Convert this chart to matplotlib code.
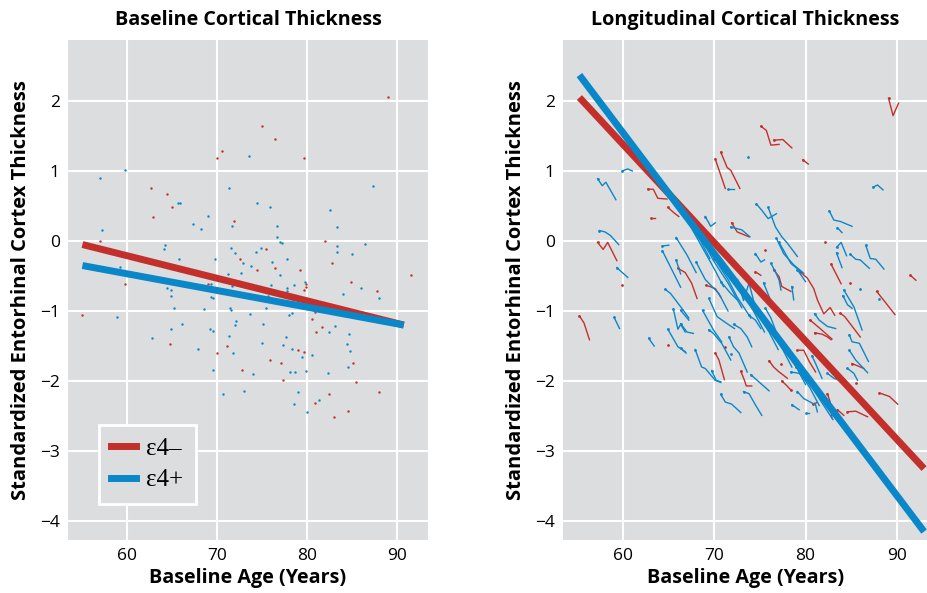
import matplotlib
matplotlib.use("Agg")
import matplotlib.pyplot as plt
from matplotlib.lines import Line2D

plt.rcParams['font.family'] = ['Open Sans', 'DejaVu Sans']

RED = '#c3302b'
BLUE = '#0a87c9'
BG = '#dcdddf'

# --- left panel: baseline thickness (age, thickness)
neg_age = [89.0, 74.9, 76.4, 70.5, 70.0, 79.6, 62.6, 64.4, 64.9, 62.8, 71.8, 57.0, 75.4, 72.5,
           81.9, 82.7, 91.5, 76.4, 74.4, 79.2, 84.8, 79.8, 69.0, 59.7, 79.8, 79.6, 87.7, 55.0,
           80.8, 82.1, 83.6, 80.5, 80.9, 81.6, 64.7, 71.1, 69.9, 79.0, 79.6, 75.8, 77.1, 85.1,
           72.7, 77.3, 85.4, 82.4, 88.0, 80.8, 84.5, 82.9]
neg_thick = [2.05, 1.65, 1.46, 1.28, 1.18, 1.18, 0.76, 0.67, 0.48, 0.35, 0.28, 0.0, -0.11, -0.26,
             0.0, -0.31, -0.48, -0.39, -0.42, -0.42, -0.59, -0.62, -0.61, -0.61, -0.65, -0.70, -0.71, -1.06,
             -1.02, -0.99, -1.02, -1.12, -1.30, -1.23, -1.47, -1.50, -1.60, -1.55, -1.58, -1.70, -1.74, -1.74,
             -1.84, -1.99, -2.02, -2.19, -2.15, -2.32, -2.43, -2.51]
pos_age = [73.5, 59.7, 57.0, 71.3, 87.3, 65.6, 65.8, 74.4, 75.8, 82.5, 68.9, 71.6, 76.6, 83.3,
           67.3, 68.2, 57.2, 76.6, 76.9, 77.2, 83.3, 86.4, 64.2, 64.1, 71.5, 74.8, 72.0, 74.3,
           83.3, 84.9, 65.7, 69.7, 72.8, 76.1, 77.7, 59.2, 73.7, 72.6, 71.2, 77.0, 70.6, 79.7,
           85.9, 78.5, 77.7, 76.0, 69.3, 64.4, 64.8, 64.8, 69.3, 69.5, 71.6, 73.5, 75.6, 77.7,
           88.0, 84.0, 58.8, 65.2, 68.5, 71.4, 71.5, 73.6, 75.4, 77.9, 78.3, 66.1, 64.8, 69.2,
           69.5, 72.1, 71.9, 75.1, 82.4, 83.1, 84.6, 62.7, 67.8, 71.3, 71.7, 74.9, 77.6, 77.3,
           78.3, 79.4, 80.5, 84.4, 84.7, 84.5, 69.5, 73.9, 78.1, 78.6, 79.8, 82.3, 70.6, 73.0,
           79.0, 78.5, 81.3, 79.9]
pos_thick = [1.21, 1.02, 0.90, 0.76, 0.79, 0.54, 0.55, 0.54, 0.49, 0.44, 0.36, 0.22, 0.21, 0.20,
             0.24, 0.17, 0.16, 0.06, -0.02, -0.03, -0.07, -0.04, -0.05, -0.12, -0.10, -0.10, -0.17, -0.15,
             -0.15, -0.18, -0.25, -0.25, -0.31, -0.30, -0.25, -0.37, -0.36, -0.45, -0.47, -0.48, -0.56, -0.58,
             -0.67, -0.63, -0.67, -0.63, -0.61, -0.67, -0.70, -0.79, -0.80, -0.82, -0.64, -0.65, -0.79, -0.72,
             -0.81, -0.76, -1.09, -0.95, -0.97, -0.96, -0.99, -1.04, -0.95, -1.06, -1.03, -1.18, -1.25, -1.25,
             -1.28, -1.14, -1.20, -1.18, -1.30, -1.22, -1.33, -1.38, -1.54, -1.36, -1.60, -1.46, -1.37, -1.49,
             -1.54, -1.65, -1.63, -1.47, -1.57, -1.80, -1.84, -1.90, -1.87, -1.87, -1.86, -1.89, -2.18, -2.14,
             -2.15, -2.33, -2.27, -2.44]

# fitted lines (x ends, y ends)
base_fit_x = [55.0, 90.7]
base_fit_neg = [-0.05, -1.20]
base_fit_pos = [-0.35, -1.20]
long_fit_x = [55.2, 93.0]
long_fit_neg = [2.05, -3.25]
long_fit_pos = [2.37, -4.15]

# --- right panel: individual trajectories, each [(age, thickness), ...]
traj_neg = [
    [(55.2, -1.07), (55.7, -1.17), (56.3, -1.41)],
    [(57.2, -0.02), (57.8, -0.12), (58.3, -0.02), (59.3, -0.28)],
    [(59.9, -0.63)],
    [(62.7, 0.74), (63.3, 0.74), (63.8, 0.61), (64.8, 0.60)],
    [(63.0, 0.33), (63.5, 0.33)],
    [(64.9, 0.48), (65.6, 0.40), (66.1, 0.35)],
    [(70.1, 1.17), (71.2, 0.75)],
    [(70.7, 1.27), (71.4, 1.05), (71.8, 1.01), (72.8, 0.75)],
    [(75.1, 1.64), (75.7, 1.58), (76.2, 1.37), (77.1, 1.38)],
    [(76.5, 1.44), (77.5, 1.45), (78.5, 1.33)],
    [(79.7, 1.16), (80.3, 1.10)],
    [(89.1, 2.04), (89.6, 1.79), (90.2, 1.97)],
    [(66.0, -0.39), (66.8, -0.45), (67.5, -0.60), (68.1, -0.82)],
    [(71.9, 0.26), (72.5, 0.13), (73.8, 0.06)],
    [(75.5, -0.13)],
    [(76.5, -0.41), (77.1, -0.51), (77.4, -0.65), (78.4, -0.72)],
    [(74.5, -0.44), (75.1, -0.49)],
    [(69.1, -0.63), (70.1, -0.68), (70.7, -0.80)],
    [(82.1, -0.01)],
    [(82.8, -0.33), (83.9, -0.61)],
    [(84.9, -0.60)],
    [(91.5, -0.49), (92.1, -0.56)],
    [(87.8, -0.72), (88.6, -0.85), (89.8, -1.05)],
    [(64.9, -1.48)],
    [(70.1, -1.60), (70.5, -1.70), (71.1, -1.98)],
    [(72.9, -1.86), (73.3, -1.99), (73.5, -2.07), (74.1, -2.07)],
    [(71.2, -1.51)],
    [(76.0, -1.71), (76.5, -1.80), (77.1, -1.87), (78.0, -1.96)],
    [(77.3, -1.75)],
    [(77.4, -2.00), (77.9, -2.06), (78.4, -2.13)],
    [(79.4, -0.44), (80.2, -0.53), (80.9, -0.68), (81.3, -0.84), (82.0, -1.04), (82.7, -0.95), (83.2, -1.06)],
    [(83.8, -1.03), (84.3, -1.08), (85.3, -1.25), (86.0, -1.37)],
    [(85.1, -1.75), (86.4, -1.82)],
    [(85.5, -2.03)],
    [(88.1, -2.17), (89.2, -2.22), (90.1, -2.33)],
    [(80.5, -1.13), (81.6, -1.25), (82.2, -1.32), (82.9, -1.40)],
    [(81.0, -1.31), (81.8, -1.33), (82.4, -1.37), (82.8, -1.41)],
    [(79.1, -1.56), (79.8, -1.56), (80.4, -1.72), (81.1, -1.87)],
    [(82.4, -2.18), (82.7, -2.30), (82.9, -2.53)],
    [(83.5, -2.41), (84.2, -2.49)],
    [(84.6, -2.44), (85.5, -2.43), (86.8, -2.51)],
    [(78.4, -2.13)],
    [(80.8, -2.33), (81.2, -2.31)],
]
traj_pos = [
    [(57.2, 0.89), (57.7, 0.79), (58.1, 0.84), (59.2, 0.59)],
    [(59.9, 1.00), (60.5, 1.03), (61.0, 1.00)],
    [(71.5, 0.75), (72.1, 0.75)],
    [(73.7, 1.20)],
    [(87.4, 0.77), (87.9, 0.80), (88.5, 0.73)],
    [(57.4, 0.15), (58.0, 0.13), (58.6, 0.08), (59.5, -0.05)],
    [(59.3, -0.38), (59.9, -0.45), (60.5, -0.52)],
    [(64.3, -0.07), (65.0, -0.06)],
    [(64.3, -0.14), (65.3, -0.40), (66.3, -0.66)],
    [(65.8, -0.27), (66.3, -0.47)],
    [(64.6, -0.69), (65.2, -0.75), (66.6, -0.99), (67.2, -1.10)],
    [(74.6, 0.53), (75.2, 0.44), (75.9, 0.32), (76.8, 0.39)],
    [(75.9, 0.48), (76.7, 0.20), (77.4, 0.06), (78.0, -0.03), (79.1, -0.22)],
    [(69.0, 0.35), (69.6, 0.21), (70.1, 0.26)],
    [(71.8, 0.20), (73.0, 0.16), (73.9, 0.06)],
    [(76.8, 0.04), (77.6, -0.18), (78.7, -0.34), (79.8, -0.46)],
    [(77.1, -0.02), (78.4, -0.32), (79.5, -0.44)],
    [(74.5, -0.18), (75.1, -0.30), (75.5, -0.27)],
    [(76.2, -0.32), (76.7, -0.44), (77.1, -0.56), (77.3, -0.70)],
    [(79.1, -0.41), (80.0, -0.58)],
    [(78.5, -0.65), (78.7, -0.84)],
    [(82.6, 0.43), (83.1, 0.30), (83.8, 0.28), (85.1, 0.21)],
    [(83.5, 0.19), (84.0, 0.12)],
    [(83.4, -0.09), (83.9, -0.02), (84.5, -0.21)],
    [(83.4, -0.17), (84.0, -0.38)],
    [(86.6, -0.06), (87.1, -0.25), (87.7, -0.26), (88.6, -0.40)],
    [(84.9, -0.19), (85.5, -0.26), (86.0, -0.27), (87.0, -0.39)],
    [(86.0, -0.68)],
    [(88.1, -0.83)],
    [(84.1, -0.78), (84.6, -0.91), (85.1, -0.96)],
    [(84.2, -0.70), (85.3, -0.94), (86.2, -1.27)],
    [(59.0, -1.09), (59.6, -1.25)],
    [(62.8, -1.39), (63.4, -1.50)],
    [(64.9, -1.26), (66.0, -1.51), (66.8, -1.58)],
    [(65.5, -0.97), (66.0, -1.26), (66.3, -1.19), (66.8, -1.30)],
    [(66.3, -0.99), (67.2, -1.13)],
    [(66.3, -1.18), (67.0, -1.30), (67.7, -1.32)],
    [(66.3, -1.53), (66.9, -1.60)],
    [(69.4, -1.27), (69.9, -1.32), (70.8, -1.46), (71.8, -1.70)],
    [(67.9, -1.55), (68.6, -1.80), (69.0, -1.82), (70.1, -1.99), (70.7, -2.02)],
    [(69.7, -1.85), (70.2, -1.99), (70.7, -2.01)],
    [(74.0, -1.91), (74.7, -1.99), (76.0, -2.14)],
    [(70.7, -2.19), (71.2, -2.30), (71.9, -2.33), (72.9, -2.45)],
    [(73.2, -2.15), (73.8, -2.18), (74.5, -2.34), (75.2, -2.49)],
    [(71.6, -1.37), (72.1, -1.51), (72.7, -1.60), (73.6, -1.87)],
    [(72.1, -1.19), (72.9, -1.25), (73.6, -1.37), (74.1, -1.51)],
    [(71.8, -1.62)],
    [(73.8, -1.06), (74.5, -1.13), (75.1, -1.25)],
    [(75.6, -0.96), (76.2, -1.10), (76.7, -1.27)],
    [(75.4, -0.60), (76.3, -0.89), (77.3, -1.01)],
    [(84.8, -1.34), (85.1, -1.44), (85.9, -1.46), (86.9, -1.72)],
    [(84.8, -1.56), (85.5, -1.70), (86.8, -1.88)],
    [(84.6, -1.82), (85.3, -1.89), (85.7, -1.99)],
    [(81.0, -1.04), (81.5, -1.13), (82.4, -1.22), (83.3, -1.25)],
    [(80.7, -1.64), (81.1, -1.75), (81.8, -1.96)],
    [(82.4, -1.89), (83.1, -1.96), (83.7, -1.99)],
    [(78.4, -1.87), (79.3, -1.89), (80.0, -1.99)],
    [(79.1, -2.15), (79.8, -2.25), (81.1, -2.34), (81.3, -2.44)],
    [(78.5, -2.34), (79.3, -2.41)],
    [(80.0, -2.45), (80.4, -2.45)],
    [(66.5, 0.45), (67.5, 0.20), (68.5, 0.00), (69.5, -0.25)],
    [(67.0, 0.30), (68.5, -0.05), (70.0, -0.40), (71.0, -0.65)],
    [(68.5, 0.05), (70.0, -0.30), (71.5, -0.60), (73.0, -0.95)],
    [(70.0, -0.25), (71.5, -0.55), (72.5, -0.80), (74.0, -1.10)],
    [(71.5, -0.45), (73.0, -0.70), (74.5, -1.05), (75.5, -1.30)],
    [(73.0, -0.70), (74.5, -1.00), (76.0, -1.30), (77.0, -1.55)],
    [(74.5, -1.00), (76.0, -1.25), (77.5, -1.55), (78.5, -1.80)],
    [(76.0, -1.20), (77.5, -1.50), (79.0, -1.80), (80.0, -2.05)],
    [(77.5, -1.50), (79.0, -1.80), (80.5, -2.10), (81.5, -2.35)],
    [(79.0, -1.80), (80.5, -2.05), (82.0, -2.35), (83.0, -2.55)],
    [(72.5, -0.55), (73.2, -0.85), (73.8, -0.60), (74.5, -0.95)],
    [(68.0, -0.30), (69.0, -0.55), (70.5, -0.75), (71.5, -1.00)],
    [(65.8, 0.05), (67.0, -0.20), (68.0, -0.45)],
    [(68.7, -0.99), (69.9, -1.27), (70.8, -1.44)],
    [(69.4, -0.82), (70.3, -1.08), (71.4, -1.18), (72.2, -1.25)],
    [(70.7, -0.58), (71.8, -0.75), (72.5, -0.84)],
]

xticks = [60, 70, 80, 90]
yticks = [2, 1, 0, -1, -2, -3, -4]
xlim = (53.4, 93.4)
ylim = (-4.27, 2.87)


def style(ax, title):
    ax.set_facecolor(BG)
    for s in ax.spines.values():
        s.set_visible(False)
    ax.grid(True, color='white', linewidth=1.5)
    ax.set_axisbelow(True)
    ax.set_xlim(*xlim)
    ax.set_ylim(*ylim)
    ax.set_xticks(xticks)
    ax.set_yticks(yticks)
    ax.tick_params(length=0, labelsize=12.5, pad=6)
    ax.set_title(title, fontsize=14.2, fontweight='bold', pad=11)
    ax.set_xlabel('Baseline Age (Years)', fontsize=14.2, fontweight='bold', labelpad=3)
    ax.set_ylabel('Standardized Entorhinal Cortex Thickness', fontsize=14.5,
                  fontweight='bold', labelpad=6)


fig = plt.figure(figsize=(9.28, 5.93), dpi=100)
ax1 = fig.add_axes([0.0733, 0.0894, 0.388, 0.843])
ax2 = fig.add_axes([0.6067, 0.0894, 0.393, 0.843])

style(ax1, 'Baseline Cortical Thickness')
ax1.scatter(neg_age, neg_thick, s=3, color=RED, linewidths=0, zorder=2)
ax1.scatter(pos_age, pos_thick, s=3, color=BLUE, linewidths=0, zorder=2)
ax1.plot(base_fit_x, base_fit_neg, color=RED, lw=5, solid_capstyle='butt', zorder=3)
ax1.plot(base_fit_x, base_fit_pos, color=BLUE, lw=5, solid_capstyle='butt', zorder=3)

handles = [Line2D([], [], color=RED, lw=5), Line2D([], [], color=BLUE, lw=5)]
leg = ax1.legend(handles, ['ε4–', 'ε4+'], loc='lower left', bbox_to_anchor=(0.085, 0.072),
                 prop={'family': ['Liberation Serif', 'DejaVu Serif'], 'size': 18},
                 facecolor=BG, edgecolor='white', framealpha=1,
                 fancybox=False, handlelength=1.0, borderpad=0.5, labelspacing=0.35,
                 handletextpad=0.4, borderaxespad=0)
leg.get_frame().set_linewidth(2)

style(ax2, 'Longitudinal Cortical Thickness')
for traj, c in [(traj_neg, RED), (traj_pos, BLUE)]:
    for t in traj:
        xs = [p[0] for p in t]
        ys = [p[1] for p in t]
        ax2.plot(xs, ys, color=c, lw=1, zorder=2)
        ax2.plot(xs[:1], ys[:1], 'o', color=c, ms=2, mew=0, zorder=2)
ax2.plot(long_fit_x, long_fit_neg, color=RED, lw=5, solid_capstyle='butt', zorder=3)
ax2.plot(long_fit_x, long_fit_pos, color=BLUE, lw=5, solid_capstyle='butt', zorder=3)

fig.savefig('out.png', dpi=100)
